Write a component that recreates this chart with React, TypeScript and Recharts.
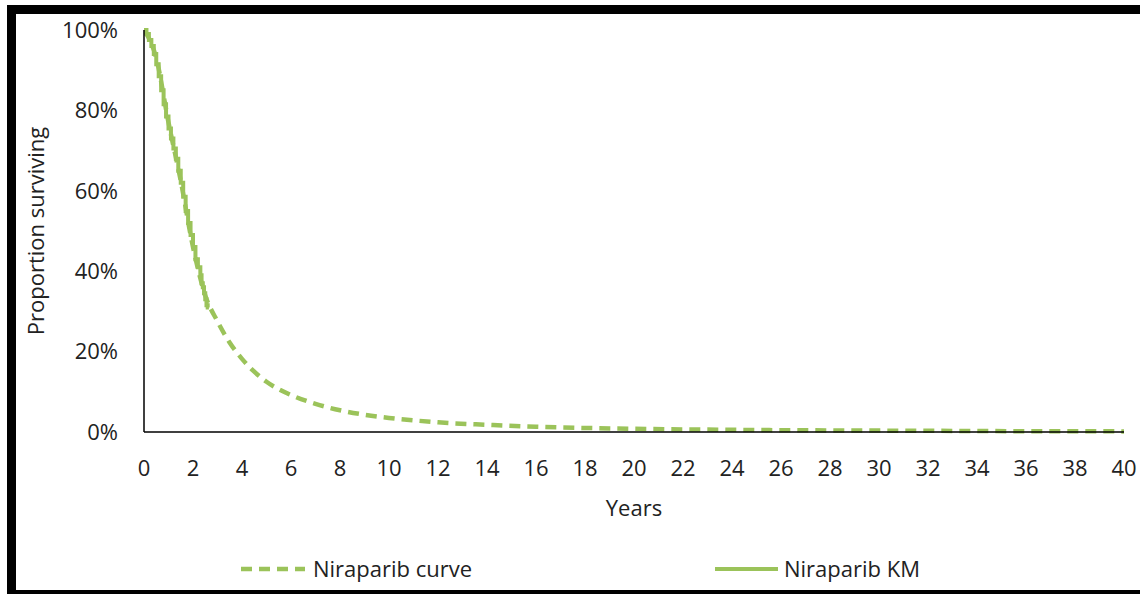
import { LineChart, Line, XAxis, YAxis } from "recharts"

// fitted curve, years -> proportion surviving
const curveYears = [0, 0.5, 1, 1.5, 2, 2.5, 3, 3.5, 4, 4.5, 5, 6, 7, 8, 9, 10, 11, 12, 14, 16, 18, 20, 22, 24, 26, 28, 30, 32, 34, 36, 38, 40]
const curveValues = [1, 0.93, 0.77, 0.625, 0.46, 0.34, 0.275, 0.222, 0.182, 0.15, 0.125, 0.092, 0.07, 0.054, 0.043, 0.035, 0.029, 0.024, 0.018, 0.013, 0.01, 0.008, 0.0065, 0.0055, 0.0045, 0.004, 0.0035, 0.003, 0.0025, 0.002, 0.002, 0.0015]

// Kaplan-Meier steps
const kmYears = [0, 0.1, 0.2, 0.3, 0.4, 0.5, 0.6, 0.7, 0.8, 0.9, 1.0, 1.1, 1.2, 1.3, 1.4, 1.5, 1.6, 1.7, 1.8, 1.9, 2.0, 2.1, 2.2, 2.3, 2.35, 2.4, 2.45, 2.5, 2.55, 2.6, 2.65]
const kmValues = [1, 0.99, 0.975, 0.96, 0.94, 0.915, 0.885, 0.85, 0.815, 0.785, 0.755, 0.73, 0.705, 0.68, 0.65, 0.62, 0.585, 0.55, 0.52, 0.49, 0.46, 0.43, 0.41, 0.39, 0.37, 0.36, 0.345, 0.33, 0.315, 0.31, 0.31]

const xTicks = [0, 2, 4, 6, 8, 10, 12, 14, 16, 18, 20, 22, 24, 26, 28, 30, 32, 34, 36, 38, 40]
const yTicks = [0, 0.2, 0.4, 0.6, 0.8, 1]

const curveData = curveYears.map((t, i) => ({ t, p: curveValues[i] }))
const kmData = kmYears.map((t, i) => ({ t, p: kmValues[i] }))

const green = "#9BC35A"
const textColor = "#222222"
const font = "'Open Sans', sans-serif"

export default function App() {
  return (
    <div style={{ position: "absolute", left: 0, top: 0, width: 1140, height: 594, overflow: "hidden", background: "#fff", fontFamily: font, color: textColor }}>
      <div
        style={{
          position: "absolute",
          left: 7,
          top: 5,
          width: 1160,
          height: 594,
          boxSizing: "border-box",
          borderTop: "9px solid #000",
          borderLeft: "9px solid #000",
          borderBottom: "9px solid #000",
        }}
      />
      <div style={{ position: "absolute", left: 0, top: 0 }}>
        <LineChart width={1140} height={594} margin={{ top: 30, right: 16, left: 44, bottom: 132 }}>
          <XAxis
            dataKey="t"
            type="number"
            domain={[0, 40]}
            ticks={xTicks}
            tickLine={false}
            tickSize={0}
            tickMargin={28}
            height={30}
            stroke="#000"
            strokeWidth={1.5}
            tick={{ fill: textColor, fontSize: 22, fontFamily: font }}
            allowDataOverflow
          />
          <YAxis
            type="number"
            domain={[0, 1]}
            ticks={yTicks}
            tickLine={false}
            tickSize={0}
            tickMargin={26}
            width={100}
            stroke="#000"
            strokeWidth={1.5}
            tick={{ fill: textColor, fontSize: 22, fontFamily: font }}
            tickFormatter={(v) => `${Math.round(v * 100)}%`}
          />
          <Line
            data={curveData}
            dataKey="p"
            type="monotone"
            stroke={green}
            strokeWidth={4.5}
            strokeDasharray="11 7"
            dot={false}
            isAnimationActive={false}
          />
          <Line
            data={kmData}
            dataKey="p"
            type="stepAfter"
            stroke={green}
            strokeWidth={4}
            dot={false}
            isAnimationActive={false}
          />
        </LineChart>
      </div>
      <div style={{ position: "absolute", left: 634, top: 492, transform: "translateX(-50%)", fontSize: 22, whiteSpace: "nowrap" }}>Years</div>
      <div
        style={{
          position: "absolute",
          left: 35,
          top: 231,
          transform: "translate(-50%, -50%) rotate(-90deg)",
          fontSize: 22,
          whiteSpace: "nowrap",
        }}
      >
        Proportion surviving
      </div>
      <svg style={{ position: "absolute", left: 0, top: 0 }} width={1140} height={594}>
        <line x1={241} x2={305} y1={569} y2={569} stroke={green} strokeWidth={4.5} strokeDasharray="11 7" />
        <line x1={715} x2={778} y1={569} y2={569} stroke={green} strokeWidth={4} />
      </svg>
      <div style={{ position: "absolute", left: 313, top: 553, fontSize: 22, whiteSpace: "nowrap" }}>Niraparib curve</div>
      <div style={{ position: "absolute", left: 784, top: 553, fontSize: 22, whiteSpace: "nowrap" }}>Niraparib KM</div>
    </div>
  )
}
